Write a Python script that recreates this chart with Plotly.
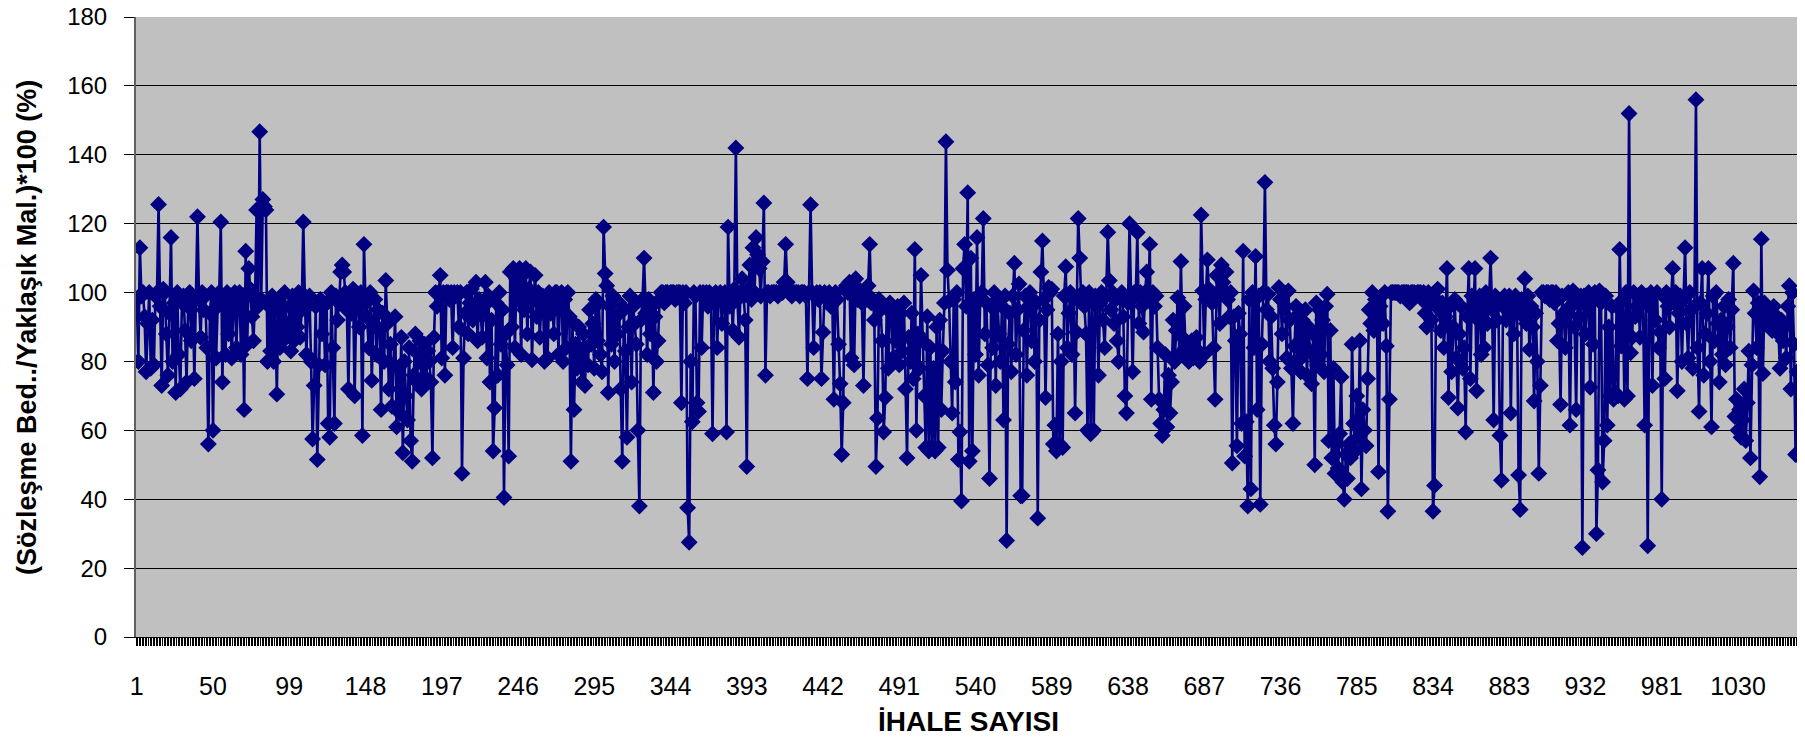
import plotly.graph_objects as go

# İhale bazında (Sözleşme Bedeli / Yaklaşık Maliyet) * 100 değerleri
ihale_001_140 = [
    98, 80, 113, 99, 100, 93, 77, 91, 100, 78,
    92, 79, 99, 100, 125.6, 96, 73, 101, 100, 88,
    76, 94, 116, 80, 97, 71, 100, 82, 72, 97,
    99, 89, 74, 96, 100, 86, 99, 75, 98, 122,
    98, 87, 100, 95, 99, 84, 56, 94, 100, 60,
    99, 81, 96, 100, 120.5, 74, 98, 82, 100, 88,
    99, 81, 95, 100, 84, 97, 100, 82, 99, 66,
    112, 85, 107, 101, 93, 86, 98, 124, 96, 146.7,
    98, 127, 125, 124, 80, 96, 83, 99, 80, 95,
    70.5, 97, 84, 99, 86, 100, 91, 88, 96, 83,
    99, 86, 97, 90, 100, 87, 95, 120.5, 99, 82,
    96, 99, 80, 57.5, 73, 96, 51.5, 79, 98, 88,
    96, 79, 97, 62, 58, 100, 84, 62, 99, 92,
    97, 106, 108, 106, 100, 95, 72, 98, 94, 101,
]
ihale_141_270 = [
    70, 96, 99, 90, 100, 58.5, 114, 97, 93, 84,
    100, 74.5, 91, 98, 82, 95, 89, 66, 94, 80,
    103.5, 91, 72, 85, 67, 79, 93, 61, 78, 65,
    87, 53.5, 80, 70, 63, 84, 57, 51, 76, 88,
    74, 82, 86, 72, 79, 85, 75, 83, 80, 74,
    52, 87, 100, 96, 100, 105, 81, 100, 76, 100,
    100, 98, 100, 84, 100, 99, 100, 90, 100, 47.5,
    81, 94, 100, 88, 97, 101, 92, 96, 103, 86,
    98, 94, 87, 96, 103, 81, 99, 74, 92, 54,
    66.5, 97, 76, 100, 85, 95, 40.5, 88, 79, 52.5,
    106, 90, 107, 84, 104, 98, 107, 82, 105, 95,
    107, 88, 101, 106, 80.5, 98, 105, 93, 100, 87,
    97, 99, 80, 96, 81, 100, 94, 98, 88, 100,
]
ihale_271_410 = [
    100, 82, 99, 100, 80, 98, 84, 100, 93, 51,
    91.5, 66, 85, 78, 90, 81, 74, 88, 73, 84,
    79, 95, 85, 91, 78, 98, 86, 97, 82, 77,
    119, 105.5, 102, 71, 96, 85, 99, 80, 93, 88,
    97, 72, 51, 95, 83, 58, 90, 99, 74, 96,
    91, 85, 60, 38, 92, 98, 110, 94, 82, 98,
    88, 96, 71, 93, 80, 86, 98, 100, 100, 97,
    100, 100, 99, 100, 100, 100, 98, 100, 100, 100,
    68, 100, 97, 100, 37.5, 27.5, 80, 62.5, 100, 99,
    68, 65.5, 100, 84, 100, 99, 100, 96, 100, 98,
    59, 97, 100, 84, 99, 100, 91, 98, 100, 59.5,
    119, 96, 100, 89, 101, 142, 98, 87, 100, 104,
    99, 92, 49.5, 101, 108, 98, 113, 100, 116, 111,
    107, 99, 109, 126, 76, 100, 100, 99, 100, 100,
]
ihale_411_540 = [
    100, 100, 99, 100, 100, 100, 103, 114, 103, 100,
    100, 99, 100, 100, 100, 100, 99, 100, 100, 100,
    99, 75, 100, 125.5, 100, 84, 99, 100, 98, 100,
    75, 88.5, 100, 99, 98, 100, 96, 97, 69, 100,
    98, 85, 73.5, 53, 68, 101, 102, 100, 103, 81,
    100, 79, 104, 98, 101, 100, 97, 73, 100, 98,
    102, 114, 97, 98, 92, 49.5, 63.5, 98, 95, 86,
    59.5, 69.5, 96, 78, 97, 94, 81, 95, 86, 96,
    79, 94, 83, 97, 72, 52, 87, 80, 94, 75,
    112.5, 60, 88, 78, 105, 86, 70, 55, 93, 54,
    84, 55, 78, 54, 90, 55, 92, 66, 83, 97,
    143.8, 106.5, 97.5, 80, 65, 98, 74, 100, 51.5, 59.5,
    39.5, 107, 114, 96, 129, 51, 110, 54, 98, 82,
]
ihale_541_680 = [
    116, 76, 98, 100, 121.5, 88, 97, 79, 46, 96,
    84, 100, 73, 98, 88, 80, 96, 63, 99, 28,
    85, 94, 77, 99, 108.5, 82, 95, 102.5, 41, 41,
    89, 99, 76, 96, 100, 86, 98, 80, 97, 34.5,
    92, 106, 115, 98, 69.5, 95, 101.5, 100, 101, 56,
    61.5, 54, 88, 56, 80, 55, 99, 107.5, 84, 94,
    100, 82, 98, 65, 88.5, 121.5, 110, 97, 100, 96,
    88, 60, 100, 59, 98, 60, 99, 96, 76, 97,
    100, 92, 84, 99, 117.5, 103.5, 95, 100, 91, 98,
    86, 80, 99, 100, 93, 70, 65, 97, 120, 98,
    77, 100, 99, 117.5, 91, 100, 96, 88.5, 100, 106,
    98, 114, 69, 100, 96, 99, 84, 69, 62, 58.5,
    66, 82, 61, 76, 65, 74, 92, 80, 89, 98.5,
    82, 109, 87, 96, 84, 82, 80, 84, 86, 81,
]
ihale_681_810 = [
    84, 87, 83, 80, 122.5, 100.5, 82, 98, 109.5, 101,
    100, 97, 84, 69, 105, 100, 91, 108, 103, 100,
    106, 98, 93, 100, 50.5, 93, 86, 55.5, 94, 88,
    62, 112, 52.5, 62.5, 38, 98, 43, 100, 84, 110.5,
    66, 99, 38.5, 85, 100, 132, 95, 99.5, 80, 93,
    78, 61.5, 56, 74, 101.5, 98, 88, 100, 96, 81,
    100.5, 92, 78, 62, 84.5, 96, 80, 94, 77, 92,
    82, 95, 76, 90, 83, 73.5, 88, 50, 97, 79,
    95, 82, 92, 77, 96, 99.5, 57, 89, 52, 78,
    47.5, 56, 49, 59, 75.5, 45, 40, 53, 46, 56,
    52, 85, 62, 54, 70, 58, 86, 43, 66, 60,
    55.5, 75, 95, 91, 100, 89, 98, 94, 48, 96,
    99, 91, 100, 84.5, 36.5, 69, 100, 100, 100, 100,
]
ihale_811_950 = [
    100, 100, 99, 100, 100, 100, 100, 100, 97, 100,
    100, 100, 99, 100, 100, 100, 98, 100, 94, 90,
    100, 97, 92, 36.5, 44, 98, 101, 95, 89, 97,
    84, 93, 107, 69.5, 96, 77, 90, 98, 81, 66.5,
    88, 96, 78, 84, 59.5, 93, 107, 75, 99, 95,
    107, 71.5, 92, 99, 82, 97, 84, 100, 91, 97,
    110, 95, 63, 99, 92, 98, 58.5, 45.5, 96, 99,
    92, 97, 99, 65, 94, 88, 99, 96, 47, 37,
    98, 93, 104, 91, 99, 83.5, 96, 90, 68.5, 94,
    80, 47.5, 73, 100, 100, 99, 100, 100, 98, 100,
    100, 97, 100, 86, 91, 67.5, 99, 94, 84, 95,
    100, 61.5, 96, 100.5, 90, 66, 98, 93, 99, 26,
    99, 88, 96, 100, 72.5, 98, 85, 100, 30, 48.5,
    100.5, 97, 45, 57, 99, 61.5, 90, 70, 96, 69,
]
ihale_951_1070 = [
    71, 96, 70, 112.5, 84.5, 98, 69, 100, 70, 152,
    82.5, 87, 100, 93, 96, 99, 87, 100, 97, 61.5,
    99, 26.5, 96, 100, 73, 99, 92, 100, 84, 88.5,
    40, 99, 75, 100, 96, 90, 98, 107, 97, 100,
    71.5, 94, 99, 80, 98, 113, 91, 81, 100, 95,
    78, 96, 156, 84, 65.5, 97, 107, 76, 88, 94,
    107, 80, 61, 99, 86, 100, 91, 74, 92, 82,
    96, 79, 90, 98, 84, 95, 108.5, 64, 69, 60,
    66, 58, 63, 72, 57, 68, 83, 52, 79, 100.5,
    94, 84, 97, 46.5, 115.5, 76.5, 97, 92, 95, 90,
    94, 89, 96, 91, 93, 88, 78, 92, 86, 90,
    81, 96, 102, 72, 100, 85, 53, 77, 52.5, 76,
]

oranlar = (ihale_001_140 + ihale_141_270 + ihale_271_410 + ihale_411_540
           + ihale_541_680 + ihale_681_810 + ihale_811_950 + ihale_951_1070)
ihale_no = list(range(1, len(oranlar) + 1))

x_tick_values = [1, 50, 99, 148, 197, 246, 295, 344, 393, 442, 491,
                 540, 589, 638, 687, 736, 785, 834, 883, 932, 981, 1030]

FONT = "Arial, 'Liberation Sans', sans-serif"
LACIVERT = "#000080"

fig = go.Figure()

fig.add_trace(go.Scatter(
    x=ihale_no,
    y=oranlar,
    mode="lines+markers",
    line=dict(color=LACIVERT, width=2.6),
    marker=dict(symbol="diamond", size=13, color=LACIVERT),
    hovertemplate="İhale %{x}<br>%{y:.1f} %<extra></extra>",
))

# sayfa gövdesinin 8 px kenar boşluğu hesaba katılarak boyutlandırıldı
fig.update_layout(
    width=1797,
    height=731,
    margin=dict(l=128, r=4, t=9, b=102),
    paper_bgcolor="white",
    plot_bgcolor="#C0C0C0",
    showlegend=False,
    font=dict(family=FONT, size=25, color="black"),
    annotations=[
        dict(text="<b>İHALE SAYISI</b>", xref="paper", yref="paper",
             x=0.5, y=-0.137, xanchor="center", yanchor="middle",
             showarrow=False, font=dict(size=28)),
        dict(text="<b>(Sözleşme Bed../Yaklaşık Mal.)*100 (%)</b>",
             xref="paper", yref="paper", x=-0.0655, y=0.5, textangle=-90,
             xanchor="center", yanchor="middle", showarrow=False,
             font=dict(size=27)),
    ],
    shapes=[
        dict(type="line", xref="paper", yref="paper", x0=1, x1=1, y0=0, y1=1,
             line=dict(color="#808080", width=2)),
    ],
)

fig.update_xaxes(
    type="linear",
    automargin=False,
    range=[0.5, len(oranlar) + 0.5],
    tickmode="array",
    tickvals=x_tick_values,
    ticktext=[str(v) for v in x_tick_values],
    ticks="outside",
    ticklen=27,
    tickcolor="rgba(0,0,0,0)",
    showgrid=False,
    zeroline=False,
    showline=True,
    linecolor="black",
    linewidth=1,
    minor=dict(ticks="outside", tick0=0.5, dtick=1, ticklen=8,
               tickcolor="black", tickwidth=1, showgrid=False),
)
fig.update_yaxes(
    automargin=False,
    range=[0, 180],
    tick0=0,
    dtick=20,
    ticks="outside",
    ticklen=10,
    tickcolor="black",
    tickfont=dict(size=24),
    ticklabelstandoff=12,
    ticklabeloverflow="allow",
    showgrid=True,
    gridcolor="black",
    gridwidth=1,
    zeroline=False,
    showline=True,
    linecolor="#606060",
    linewidth=2,
)

fig.write_html("out.html")
